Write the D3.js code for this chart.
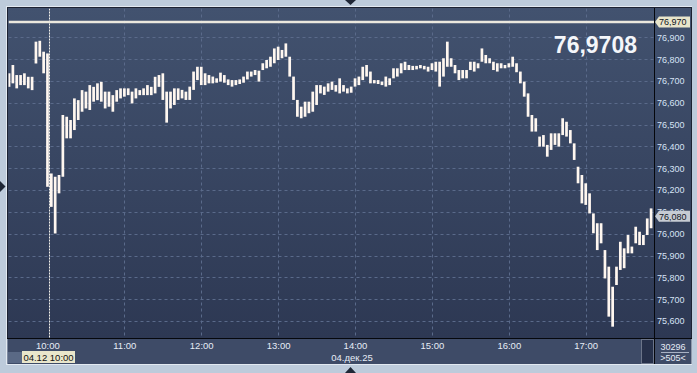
<!DOCTYPE html>
<html>
<head>
<meta charset="utf-8">
<script src="https://cdn.jsdelivr.net/npm/d3@7"></script>
<style>
  html,body{margin:0;padding:0;background:#bdcbdb;overflow:hidden}
  text{font-family:"Liberation Sans",Arial,sans-serif}
</style>
</head>
<body>
<svg id="chart" width="697" height="373"></svg>
<script>
// first bar at 9:30 (minutes after midnight), one bar every 3 minutes
var startMin=570;
var stepMin=3;

var barHigh=[
  76.735,76.773,76.727,76.727,76.735,76.719,76.719,76.880,76.884,76.834,
  76.826,76.276,76.261,76.269,76.544,76.536,76.521,76.620,76.612,76.658,
  76.651,76.681,76.673,76.689,76.696,76.651,76.651,76.635,76.658,76.666,
  76.666,76.666,76.651,76.666,76.658,76.666,76.681,76.673,76.719,76.727,
  76.735,76.651,76.651,76.666,76.666,76.659,76.651,76.674,76.743,76.765,
  76.765,76.735,76.727,76.720,76.712,76.738,76.727,76.707,76.704,76.704,
  76.707,76.720,76.743,76.743,76.750,76.747,76.781,76.796,76.811,76.849,
  76.857,76.842,76.872,76.811,76.720,76.613,76.582,76.605,76.605,76.651,
  76.681,76.681,76.674,76.689,76.697,76.681,76.712,76.681,76.666,76.674,
  76.712,76.720,76.765,76.773,76.743,76.704,76.704,76.697,76.720,76.712,
  76.758,76.758,76.781,76.788,76.773,76.769,76.769,76.773,76.769,76.765,
  76.781,76.788,76.788,76.804,76.880,76.804,76.773,76.750,76.750,76.750,
  76.788,76.788,76.781,76.849,76.819,76.804,76.788,76.781,76.781,76.773,
  76.781,76.811,76.781,76.743,76.697,76.643,76.544,76.529,76.445,76.452,
  76.407,76.460,76.460,76.460,76.529,76.513,76.475,76.414,76.307,76.269,
  76.231,76.185,76.093,76.048,76.048,75.925,75.849,75.757,75.849,75.963,
  75.933,75.994,75.941,76.032,76.009,75.994,76.070,76.116
];
var barLow=[
  76.673,76.689,76.666,76.681,76.681,76.666,76.658,76.780,76.811,76.735,
  76.215,76.123,76.001,76.185,76.261,76.437,76.437,76.475,76.521,76.559,
  76.574,76.567,76.605,76.612,76.605,76.574,76.582,76.559,76.605,76.620,
  76.628,76.635,76.597,76.620,76.635,76.635,76.635,76.635,76.643,76.673,
  76.613,76.509,76.574,76.590,76.613,76.620,76.613,76.613,76.659,76.704,
  76.681,76.681,76.689,76.689,76.692,76.697,76.692,76.681,76.674,76.681,
  76.686,76.692,76.707,76.720,76.727,76.697,76.750,76.758,76.765,76.781,
  76.796,76.804,76.811,76.720,76.613,76.536,76.529,76.536,76.552,76.559,
  76.590,76.643,76.636,76.651,76.659,76.651,76.643,76.651,76.643,76.646,
  76.674,76.681,76.704,76.720,76.689,76.689,76.686,76.681,76.674,76.681,
  76.712,76.720,76.735,76.750,76.750,76.750,76.753,76.758,76.753,76.743,
  76.750,76.743,76.674,76.720,76.765,76.765,76.735,76.704,76.712,76.712,
  76.750,76.743,76.758,76.788,76.781,76.781,76.750,76.743,76.758,76.758,
  76.762,76.765,76.740,76.689,76.628,76.536,76.468,76.468,76.399,76.399,
  76.353,76.384,76.407,76.399,76.452,76.445,76.414,76.338,76.231,76.139,
  76.132,76.093,76.002,75.925,75.956,75.795,75.620,75.574,75.765,75.834,
  75.842,75.910,75.910,75.956,75.948,75.948,75.994,76.025
];

var priceTicks=[75.6,75.7,75.8,75.9,76.0,76.1,76.2,76.3,76.4,76.5,76.6,76.7,76.8,76.9];
var hourTicks=[10,11,12,13,14,15,16,17];
var levelValue=76.970;
var lastValue=76.080;
var levelText="76,9708";
var dateText="04.дек.25";
var cursorMin=601;
var cursorText="04.12 10:00";
var volumeText="30296";
var countText=">505<";

var svg=d3.select("#chart");
var plot={left:8.5,top:8.5,right:654,bottom:338};

var x=d3.scaleLinear().domain([569,1073]).range([7.7,653.6]);
var y=d3.scaleLinear().domain([75.6,76.9]).range([321,37.3]);
var fmt=function(v){return d3.format(".3f")(v).replace(".",",");};

// background gradient of chart + price panel
var defs=svg.append("defs");
var grad=defs.append("linearGradient").attr("id","bg").attr("x1",0).attr("y1",0).attr("x2",0).attr("y2",1);
grad.append("stop").attr("offset","0%").attr("stop-color","#42526f");
grad.append("stop").attr("offset","100%").attr("stop-color","#2d3853");
defs.append("clipPath").attr("id","clip").append("rect")
  .attr("x",plot.left).attr("y",plot.top).attr("width",plot.right-plot.left).attr("height",plot.bottom-plot.top);

svg.append("rect").attr("x",6.5).attr("y",6.5).attr("width",685).attr("height",358)
  .attr("fill","none").attr("stroke","#e2e9f1");
svg.append("rect").attr("x",7.5).attr("y",7.5).attr("width",684).attr("height",331)
  .attr("fill","url(#bg)").attr("stroke","#1c2232");
// bottom time strip
svg.append("rect").attr("x",7.5).attr("y",338.5).attr("width",684).attr("height",25.5).attr("fill","#3e4b67");

// grid
var grid=svg.append("g").attr("clip-path","url(#clip)");
grid.selectAll(".hg").data(priceTicks).enter().append("line")
  .attr("x1",plot.left).attr("x2",plot.right)
  .attr("y1",function(d){return Math.round(y(d))+0.5;}).attr("y2",function(d){return Math.round(y(d))+0.5;})
  .attr("stroke","#5a6a8a").attr("stroke-dasharray","3,3");
grid.selectAll(".vg").data(hourTicks.slice(1)).enter().append("line")
  .attr("y1",plot.top).attr("y2",plot.bottom)
  .attr("x1",function(d){return Math.round(x(d*60))+0.5;}).attr("x2",function(d){return Math.round(x(d*60))+0.5;})
  .attr("stroke","#5a6a8a").attr("stroke-dasharray","3,3");

// cursor line
grid.append("line").attr("x1",Math.round(x(cursorMin))+0.5).attr("x2",Math.round(x(cursorMin))+0.5)
  .attr("y1",plot.top).attr("y2",plot.bottom+26)
  .attr("stroke","#f4f2ec").attr("stroke-dasharray","2,1");

// level line
grid.append("line").attr("x1",plot.left).attr("x2",plot.right)
  .attr("y1",y(levelValue)).attr("y2",y(levelValue))
  .attr("stroke","#ebe8de").attr("stroke-width",2.5);

// bars
var bars=barHigh.map(function(h,i){return {t:startMin+i*stepMin,hi:h,lo:barLow[i]};});
grid.selectAll(".bar").data(bars).enter().append("rect")
  .attr("class","bar")
  .attr("x",function(d){return x(d.t)-1.3;})
  .attr("width",2.7)
  .attr("y",function(d){return y(d.hi);})
  .attr("height",function(d){return Math.max(1.5,y(d.lo)-y(d.hi));})
  .attr("fill","#fff7f0");

// big value
svg.append("text").attr("x",637).attr("y",53).attr("text-anchor","end")
  .attr("font-size",23).attr("font-weight","bold").attr("fill","#f4f6fa").text(levelText);

// price axis
svg.append("line").attr("x1",654.5).attr("x2",654.5).attr("y1",8).attr("y2",364).attr("stroke","#05070c");
svg.append("line").attr("x1",7).attr("x2",692).attr("y1",338.5).attr("y2",338.5).attr("stroke","#05070c");
var yAxis=svg.append("g").attr("transform","translate(654,0)")
  .call(d3.axisRight(y).tickValues(priceTicks).tickFormat(fmt).tickSize(0).tickPadding(3));
yAxis.select(".domain").remove();
yAxis.selectAll("text").attr("font-size",9).attr("fill","#d6e3f5").attr("font-family","Liberation Sans, Arial, sans-serif");

function marker(v,bgc,txt){
  var cy=y(v);
  var g=svg.append("g");
  g.append("path").attr("d","M655,"+cy+" L659,"+(cy-5.5)+" L690,"+(cy-5.5)+" L690,"+(cy+5.5)+" L659,"+(cy+5.5)+" Z")
    .attr("fill",bgc);
  g.append("text").attr("x",659).attr("y",cy+3.3).attr("font-size",9).attr("fill","#10141c").text(txt);
}
marker(levelValue,"#e8e5cb",fmt(levelValue));
marker(lastValue,"#c6cbd3",fmt(lastValue));

// time axis
var xAxis=svg.append("g").attr("transform","translate(0,339)")
  .call(d3.axisBottom(x).tickValues(hourTicks.map(function(h){return h*60;}))
    .tickFormat(function(m){return (m/60)+":00";}).tickSize(0).tickPadding(3));
xAxis.select(".domain").remove();
xAxis.selectAll("text").attr("font-size",9.5).attr("fill","#e6ecf6").attr("font-family","Liberation Sans, Arial, sans-serif");

svg.append("text").attr("x",352).attr("y",361).attr("text-anchor","middle")
  .attr("font-size",9.5).attr("fill","#e6ecf6").text(dateText);

// scroll strip pieces
svg.append("rect").attr("x",8).attr("y",352).attr("width",14).attr("height",11).attr("fill","#5a6985");
svg.append("rect").attr("x",641.5).attr("y",339.5).attr("width",12).attr("height",24)
  .attr("fill","#26304a").attr("stroke","#6b7489");
svg.append("rect").attr("x",22).attr("y",351).attr("width",53).attr("height",12).attr("fill","#e9e6cb");
svg.append("text").attr("x",48.5).attr("y",360.5).attr("text-anchor","middle")
  .attr("font-size",9.5).attr("fill","#111").text(cursorText);

// volume box
svg.append("text").attr("x",673).attr("y",349.5).attr("text-anchor","middle")
  .attr("font-size",9).attr("fill","#e6ecf6").text(volumeText);
svg.append("line").attr("x1",661).attr("x2",689).attr("y1",352.5).attr("y2",352.5).attr("stroke","#a8b2c4");
svg.append("text").attr("x",673).attr("y",361).attr("text-anchor","middle")
  .attr("font-size",9).attr("fill","#e6ecf6").text(countText);

// small frame triangles
svg.append("path").attr("d","M345,0 L356,0 L350.5,5 Z").attr("fill","#1f2736");
svg.append("path").attr("d","M345,373 L356,373 L350.5,367 Z").attr("fill","#1f2736");
svg.append("path").attr("d","M0,181 L0,192 L5.5,186.5 Z").attr("fill","#1f2736");
</script>
</body>
</html>
